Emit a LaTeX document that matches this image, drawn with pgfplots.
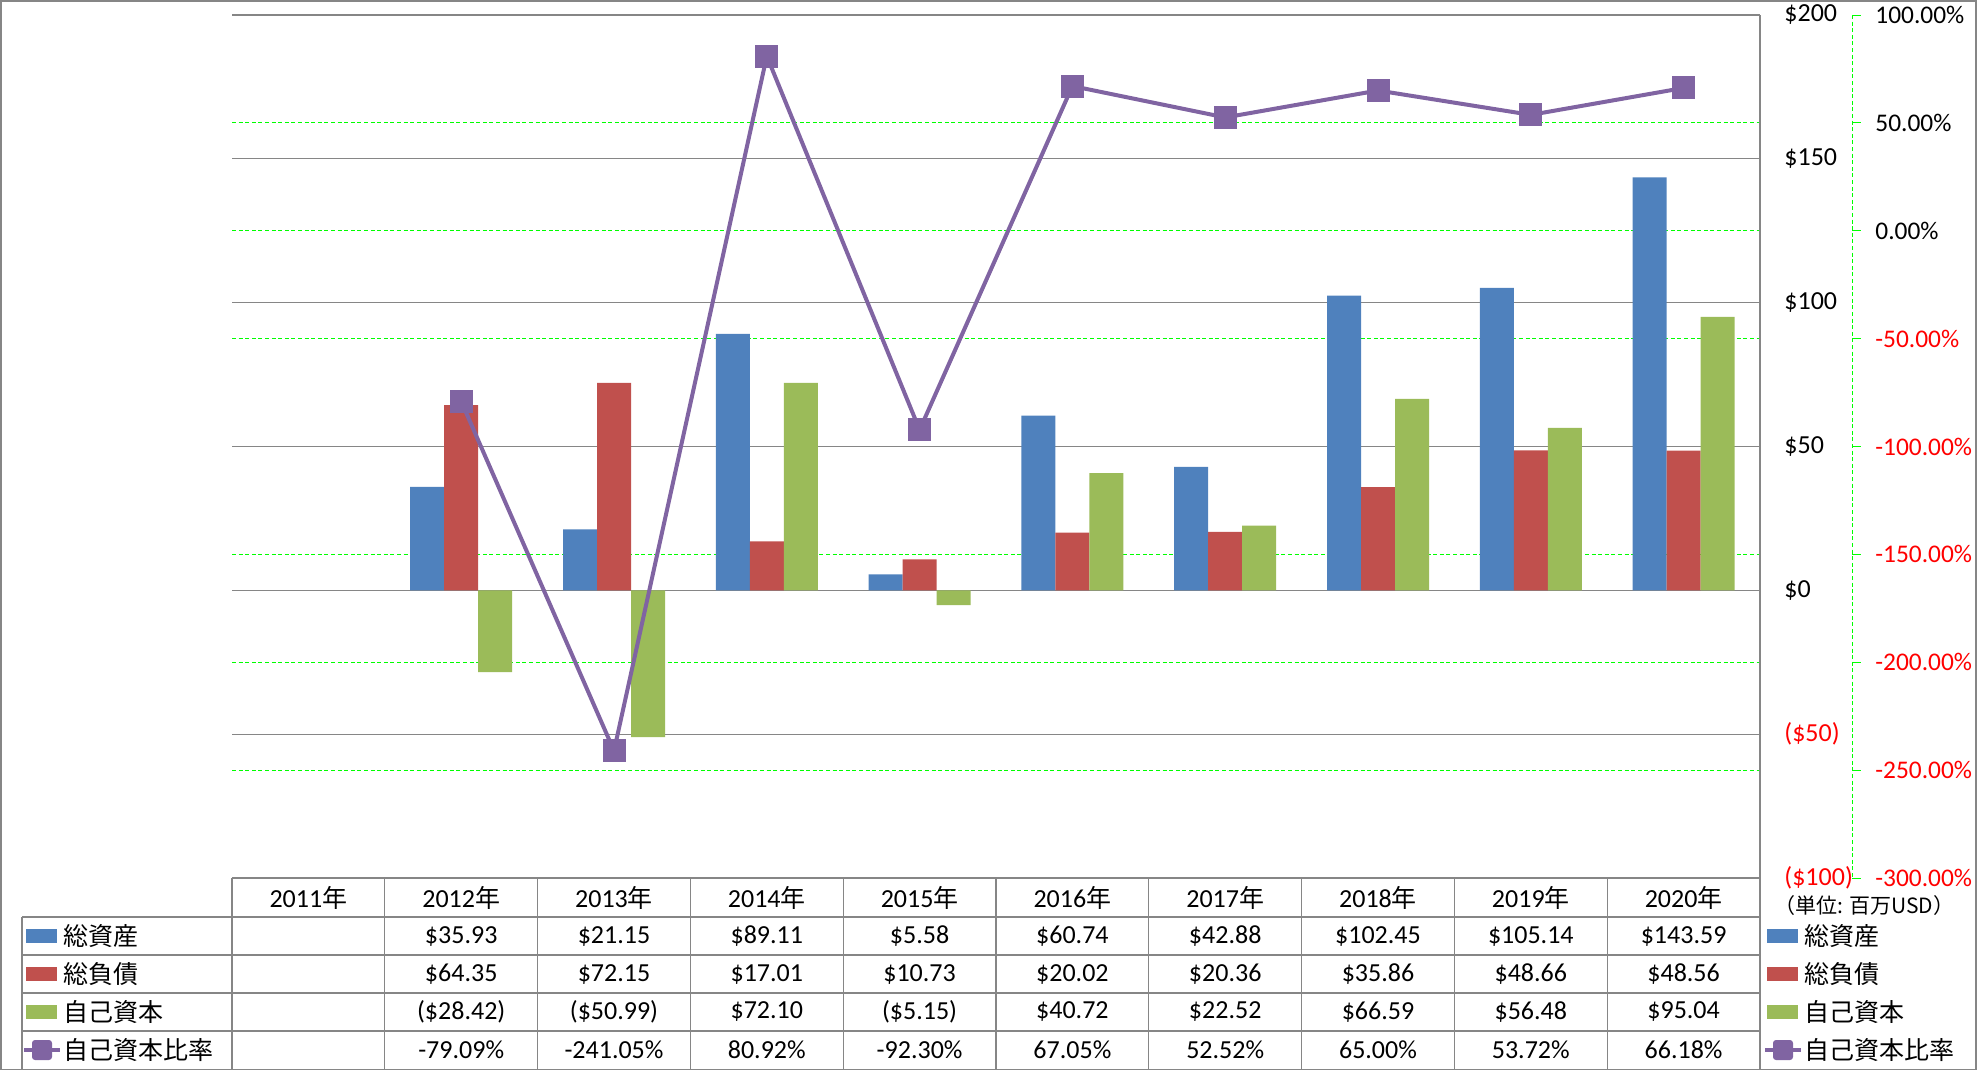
\documentclass[border=0pt]{standalone}
\usepackage{fontspec}
\setmainfont{Carlito}
\newfontfamily\jp{Noto Sans CJK JP}
\usepackage{pgfplots}
\pgfplotsset{compat=1.18}
\definecolor{cBlue}{HTML}{4F81BD}
\definecolor{cRed}{HTML}{C0504D}
\definecolor{cGreen}{HTML}{9BBB59}
\definecolor{cPurple}{HTML}{8064A2}
\definecolor{gridgray}{HTML}{868686}
\definecolor{gline}{HTML}{00FF00}
\newcommand\jpt[1]{{\fontsize{12.5pt}{14pt}\jp #1}}
\begin{document}
\fontsize{13pt}{15pt}\selectfont
\begin{tikzpicture}[font=\fontsize{13pt}{15pt}\selectfont]
\useasboundingbox (0,0) rectangle (988.5pt,-535.5pt);
\pgfplotsset{
  base/.style={
    at={(116pt,-7.5pt)}, anchor=north west,
    width=764pt, height=431.5pt, scale only axis,
    xmin=-0.5, xmax=9.5,
    hide x axis,
    major tick length=0pt,
    yticklabel style={anchor=west, inner sep=0pt},
  }
}
% secondary axis: grid + labels
\begin{axis}[base, ymin=-300, ymax=100, ytick={-300,-250,...,100},
  yticklabels={\textcolor{red}{-300.00\%},\textcolor{red}{-250.00\%},\textcolor{red}{-200.00\%},\textcolor{red}{-150.00\%},\textcolor{red}{-100.00\%},\textcolor{red}{-50.00\%},0.00\%,50.00\%,100.00\%},
  axis y line*=right, y axis line style={draw=none},
  ymajorgrids, grid style={gline, dash pattern=on 2pt off 1.3pt, line width=0.5pt},
  yticklabel style={xshift=57.5pt, font=\fontsize{12.7pt}{15pt}\selectfont}]
\end{axis}
% primary axis: bars
\begin{axis}[base, ymin=-100, ymax=200, ytick={-100,-50,...,200},
  yticklabels={\textcolor{red}{(\$100)},\textcolor{red}{(\$50)},\$0,\$50,\$100,\$150,\$200},
  axis y line*=right, y axis line style={gridgray, line width=0.6pt},
  ymajorgrids, grid style={gridgray, line width=0.6pt},
  yticklabel style={xshift=12pt}]
\addplot[ybar, bar width=17pt, bar shift=-17pt, fill=cBlue, draw=none] coordinates {
 (1,35.93) (2,21.15) (3,89.11) (4,5.58) (5,60.74) (6,42.88) (7,102.45) (8,105.14) (9,143.59)};
\addplot[ybar, bar width=17pt, bar shift=0pt, fill=cRed, draw=none] coordinates {
 (1,64.35) (2,72.15) (3,17.01) (4,10.73) (5,20.02) (6,20.36) (7,35.86) (8,48.66) (9,48.56)};
\addplot[ybar, bar width=17pt, bar shift=17pt, fill=cGreen, draw=none] coordinates {
 (1,-28.42) (2,-50.99) (3,72.10) (4,-5.15) (5,40.72) (6,22.52) (7,66.59) (8,56.48) (9,95.04)};
\end{axis}
% secondary axis: ratio line
\begin{axis}[base, ymin=-300, ymax=100, hide axis, clip=false]
\addplot[cPurple, line width=2pt, mark=square*, mark size=5.5pt,
  mark options={rounded corners=1.5pt, line width=0.5pt}] coordinates {
 (1,-79.09) (2,-241.05) (3,80.92) (4,-92.30) (5,67.05) (6,52.52) (7,65.00) (8,53.72) (9,66.18)};
\end{axis}
\begin{scope}[x=0.5pt,y=-0.5pt]
 % outer frame
 \draw[gridgray, line width=0.6pt] (1,1) rectangle (1976,1069.5);
 % secondary axis line
 \draw[gline, dash pattern=on 2pt off 1.3pt, line width=0.5pt] (1852,15) -- (1852,878);
 \foreach \k in {0,...,8} \draw[gline, line width=0.5pt] (1852,{15+\k*107.875}) -- (1861,{15+\k*107.875});
 % table grid
 \draw[gridgray, line width=0.6pt] (232,878) -- (1760,878);
 \foreach \yy in {917,955,993,1031,1069.5} \draw[gridgray, line width=0.6pt] (22,\yy) -- (1760,\yy);
 \draw[gridgray, line width=0.6pt] (22,917) -- (22,1069.5);
 \foreach \i in {0,...,10} \draw[gridgray, line width=0.6pt] ({232+152.8*\i},878) -- ({232+152.8*\i},1069.5);
 % header
 \foreach \i in {0,...,9} \node at ({232+152.8*(\i+0.5)},897.5) {\number\numexpr2011+\i\relax\jpt{年}};
 % rows
 \foreach [count=\i] \v in {\$35.93,\$21.15,\$89.11,\$5.58,\$60.74,\$42.88,\$102.45,\$105.14,\$143.59}
   \node at ({232+152.8*(\i+0.5)},936) {\v};
 \foreach [count=\i] \v in {\$64.35,\$72.15,\$17.01,\$10.73,\$20.02,\$20.36,\$35.86,\$48.66,\$48.56}
   \node at ({232+152.8*(\i+0.5)},974) {\v};
 \foreach [count=\i] \v in {(\$28.42),(\$50.99),\$72.10,(\$5.15),\$40.72,\$22.52,\$66.59,\$56.48,\$95.04}
   \node at ({232+152.8*(\i+0.5)},1012) {\v};
 \foreach [count=\i] \v in {-79.09\%,-241.05\%,80.92\%,-92.30\%,67.05\%,52.52\%,65.00\%,53.72\%,66.18\%}
   \node at ({232+152.8*(\i+0.5)},1050) {\v};
 % left legend keys
 \fill[cBlue] (26,929) rectangle (57,943);
 \fill[cRed] (26,967) rectangle (57,981);
 \fill[cGreen] (26,1005) rectangle (57,1019);
 \draw[cPurple, line width=2pt] (24,1050) -- (60,1050);
 \fill[cPurple, rounded corners=1.5pt] (32,1040) rectangle (52,1060);
 \node[anchor=west, inner sep=0pt] at (63,936) {\jpt{総資産}};
 \node[anchor=west, inner sep=0pt] at (63,974) {\jpt{総負債}};
 \node[anchor=west, inner sep=0pt] at (63,1012) {\jpt{自己資本}};
 \node[anchor=west, inner sep=0pt] at (63,1050) {\jpt{自己資本比率}};
 % right legend
 \node[anchor=west, inner sep=0pt] at (1774,906) {\fontsize{10.5pt}{12pt}\jp （単位: 百万USD）};
 \fill[cBlue] (1767,929) rectangle (1798,943);
 \fill[cRed] (1767,967) rectangle (1798,981);
 \fill[cGreen] (1767,1005) rectangle (1798,1019);
 \draw[cPurple, line width=2pt] (1765,1050) -- (1801,1050);
 \fill[cPurple, rounded corners=1.5pt] (1773,1040) rectangle (1793,1060);
 \node[anchor=west, inner sep=0pt] at (1804,936) {\jpt{総資産}};
 \node[anchor=west, inner sep=0pt] at (1804,974) {\jpt{総負債}};
 \node[anchor=west, inner sep=0pt] at (1804,1012) {\jpt{自己資本}};
 \node[anchor=west, inner sep=0pt] at (1804,1050) {\jpt{自己資本比率}};
\end{scope}
\end{tikzpicture}
\end{document}
